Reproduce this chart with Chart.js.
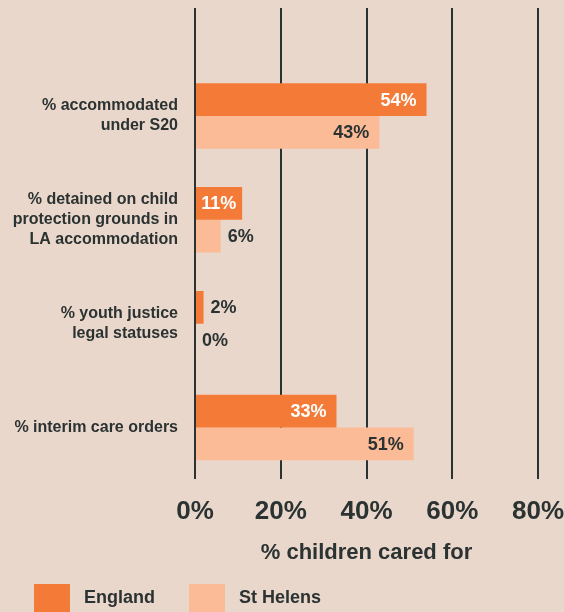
<!DOCTYPE html>
<html>
<head>
<meta charset="utf-8">
<script src="https://cdn.jsdelivr.net/npm/chart.js@4"></script>
<style>
  html, body { margin: 0; padding: 0; background: #EAD7CB; overflow: hidden; }
  /* a little taller than the window: the legend boxes run off the bottom edge like in the original */
  #wrap { width: 564px; height: 622px; }
</style>
</head>
<body>
<div id="wrap"><canvas id="chart"></canvas></div>
<script>
// --- data ---
const categories = [
  ['% accommodated', 'under S20'],
  ['% detained on child', 'protection grounds in', 'LA accommodation'],
  ['% youth justice', 'legal statuses'],
  ['% interim care orders']
];
const englandValues = [54, 11, 2, 33];
const stHelensValues = [43, 6, 0, 51];
const xTicks = [0, 20, 40, 60, 80];

const DARK = '#2B3232';
const FONT = "'Liberation Sans', Arial, sans-serif";

// value labels at the end of each bar (inside if it fits, outside if not)
const barLabels = {
  id: 'barLabels',
  afterDatasetsDraw(chart) {
    const ctx = chart.ctx;
    ctx.save();
    ctx.font = 'bold 18px ' + FONT;
    ctx.textBaseline = 'middle';
    chart.data.datasets.forEach((ds, i) => {
      const meta = chart.getDatasetMeta(i);
      meta.data.forEach((bar, j) => {
        const txt = ds.data[j] + '%';
        const w = ctx.measureText(txt).width;
        const len = bar.x - bar.base;
        if (len >= w + 10) {
          ctx.textAlign = 'right';
          ctx.fillStyle = i === 0 ? '#FFFFFF' : DARK;
          ctx.fillText(txt, bar.x - (len < w + 20 ? 6 : 10), bar.y + 1);
        } else {
          ctx.textAlign = 'left';
          ctx.fillStyle = DARK;
          ctx.fillText(txt, bar.x + 7, bar.y + 1);
        }
      });
    });
    ctx.restore();
  }
};

new Chart(document.getElementById('chart'), {
  type: 'bar',
  data: {
    labels: categories,
    datasets: [
      { label: 'England', data: englandValues, backgroundColor: '#F47A38' },
      { label: 'St Helens', data: stHelensValues, backgroundColor: '#FBBB97' }
    ]
  },
  options: {
    indexAxis: 'y',
    responsive: true,
    maintainAspectRatio: false,
    animation: false,
    layout: { padding: { top: 8, right: 0, left: 0, bottom: 0 } },
    datasets: { bar: { barPercentage: 1, categoryPercentage: 0.63, borderWidth: 0 } },
    scales: {
      x: {
        min: 0, max: 80,
        afterBuildTicks: s => { s.ticks = xTicks.map(v => ({ value: v })); },
        // title padding below is negative, which fit() ignores, so take it off by hand
        afterFit: s => { s.paddingLeft = 0; s.paddingRight = 26; s.height -= 16; },
        grid: { color: DARK, lineWidth: 2, drawTicks: false },
        border: { display: false },
        ticks: {
          padding: 17,
          color: DARK,
          font: { family: FONT, size: 26, weight: 'bold' },
          callback: v => v + '%'
        },
        title: {
          display: true,
          text: '% children cared for',
          color: DARK,
          font: { family: FONT, size: 22, weight: 'bold' },
          padding: { top: 11, bottom: -16 }
        }
      },
      // top axis only used to carry the gridlines up past the bars
      x2: {
        display: true,
        position: 'top',
        min: 0, max: 80,
        afterBuildTicks: s => { s.ticks = xTicks.map(v => ({ value: v })); },
        grid: { color: DARK, lineWidth: 2, drawOnChartArea: false, tickLength: 56 },
        border: { display: false },
        ticks: { display: false }
      },
      y: {
        afterFit: s => { s.width = 195; },
        grid: { display: false, drawTicks: false },
        border: { display: false },
        ticks: {
          padding: 17,
          color: DARK,
          font: { family: FONT, size: 16, weight: 'bold', lineHeight: 1.25 }
        }
      }
    },
    plugins: {
      tooltip: { enabled: false },
      legend: {
        position: 'bottom',
        align: 'start',
        labels: {
          color: DARK,
          font: { family: FONT, size: 18, weight: 'bold' },
          boxWidth: 36,
          boxHeight: 28,
          padding: 34,
          // a leading space widens the gap between swatch and name
          generateLabels: chart => Chart.defaults.plugins.legend.labels.generateLabels(chart)
            .map(item => Object.assign(item, { text: ' ' + item.text }))
        }
      }
    }
  },
  plugins: [barLabels]
});
</script>
</body>
</html>
